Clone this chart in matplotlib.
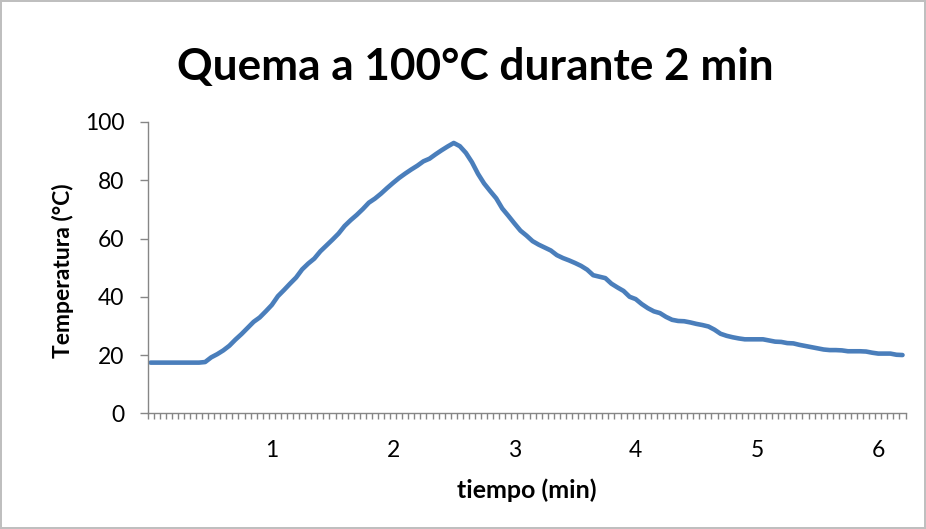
import numpy as np
import matplotlib
matplotlib.use("Agg")
import matplotlib.pyplot as plt
from matplotlib.ticker import FixedLocator

# lecturas cada 3 s (0.05 min)
temperatura = [
    17.4, 17.4, 17.4, 17.4, 17.4, 17.4, 17.4, 17.4, 17.4, 17.6,
    19.2, 20.3, 21.6, 23.2, 25.3, 27.2, 29.3, 31.4, 32.9, 35.0,
    37.2, 40.2, 42.3, 44.5, 46.6, 49.4, 51.4, 53.1, 55.6, 57.6,
    59.6, 61.7, 64.3, 66.3, 68.1, 70.1, 72.3, 73.7, 75.4, 77.3,
    79.1, 80.8, 82.3, 83.7, 85.0, 86.5, 87.4, 88.9, 90.3, 91.6,
    92.8, 91.7, 89.4, 86.2, 82.2, 78.9, 76.3, 73.8, 70.3, 67.8,
    65.2, 62.7, 61.0, 59.1, 57.9, 56.9, 55.9, 54.3, 53.3, 52.5,
    51.6, 50.6, 49.3, 47.4, 46.9, 46.4, 44.5, 43.2, 42.0, 40.0,
    39.2, 37.5, 36.1, 35.0, 34.4, 33.1, 32.1, 31.7, 31.6, 31.2,
    30.7, 30.3, 29.8, 28.7, 27.3, 26.6, 26.1, 25.7, 25.4, 25.4,
    25.4, 25.4, 25.0, 24.6, 24.5, 24.1, 24.0, 23.5, 23.1, 22.7,
    22.3, 21.9, 21.7, 21.7, 21.6, 21.3, 21.3, 21.3, 21.2, 20.8,
    20.5, 20.5, 20.5, 20.1, 20.0,
]
paso = 0.05
tiempo = np.arange(len(temperatura)) * paso

xticks = [1, 2, 3, 4, 5, 6]
xtick_labels = ["1", "2", "3", "4", "5", "6"]
yticks = [0, 20, 40, 60, 80, 100]

titulo = "Quema a 100°C durante 2 min"
eje_x = "tiempo (min)"
eje_y = "Temperatura (°C)"

plt.rcParams['font.family'] = ['Lato', 'DejaVu Sans']
gris = '#868686'

fig = plt.figure(figsize=(9.26, 5.29), dpi=100)
fig.patch.set_edgecolor('#bfbfbf')
fig.patch.set_linewidth(1.5)
ax = fig.add_axes([0.1593, 0.2187, 0.8186, 0.5507])

ax.plot(tiempo, temperatura, color='#4a7ebb', lw=3.3, solid_capstyle='round')

ax.set_xlim(-paso / 2, tiempo[-1] + paso / 2)
ax.set_ylim(0, 100)

ax.set_xticks(xticks)
ax.set_xticklabels(xtick_labels)
ax.xaxis.set_minor_locator(FixedLocator(np.arange(len(temperatura) + 1) * paso - paso / 2))
ax.tick_params(axis='x', which='major', length=0, pad=19, labelsize=16.5)
ax.tick_params(axis='x', which='minor', length=4.3, width=1, color=gris, direction='out')
ax.set_yticks(yticks)
ax.tick_params(axis='y', length=5.8, width=1, color=gris, pad=11, labelsize=16.5)

for s in ['top', 'right']:
    ax.spines[s].set_visible(False)
for s in ['left', 'bottom']:
    ax.spines[s].set_color(gris)
    ax.spines[s].set_linewidth(1)

ax.set_xlabel(eje_x, fontsize=18, fontweight='bold', va='center')
ax.xaxis.set_label_coords(0.5, -0.263)
ax.set_ylabel(eje_y, fontsize=16.5, fontweight='bold', va='center')
ax.yaxis.set_label_coords(-0.112, 0.49)
fig.text(0.513, 0.873, titulo, ha='center', va='center', fontsize=31.8, fontweight='bold')

fig.savefig('out.png', dpi=100, edgecolor=fig.get_edgecolor())
